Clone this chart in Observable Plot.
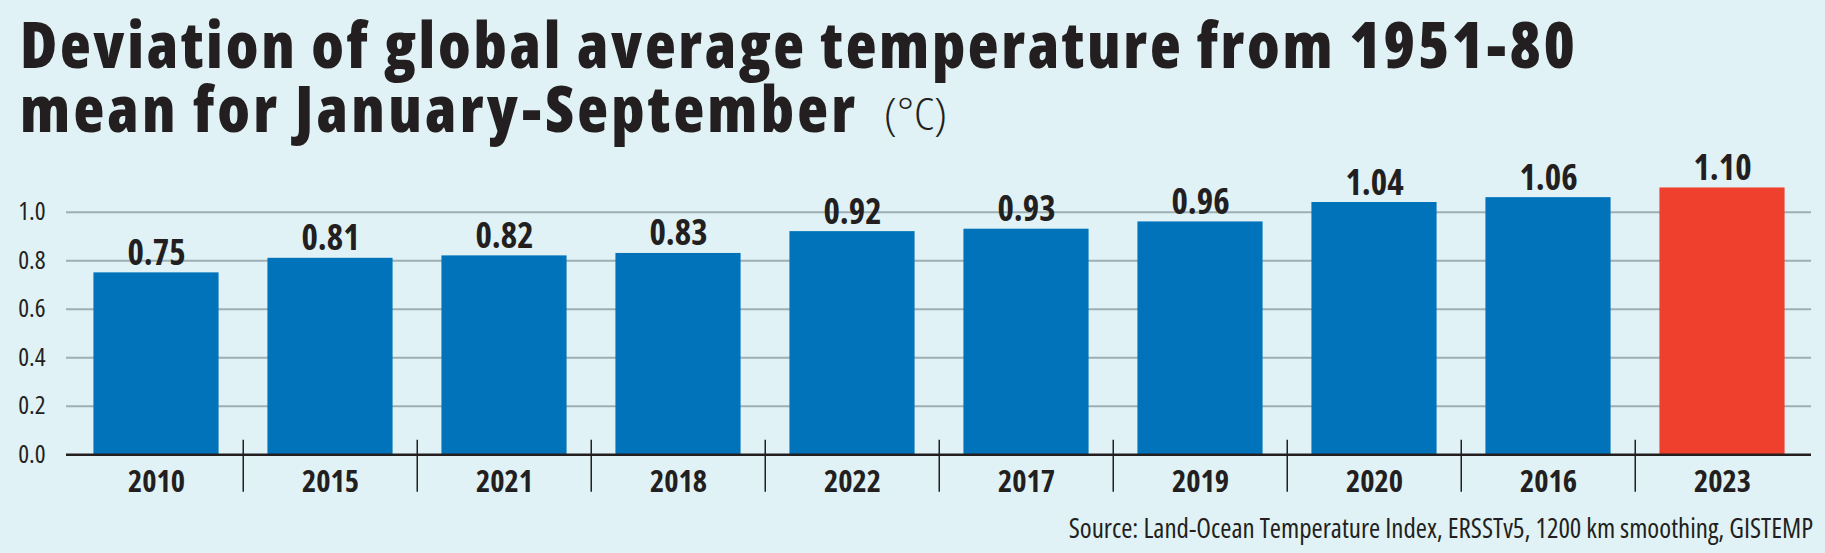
<!DOCTYPE html>
<html>
<head>
<meta charset="utf-8">
<script src="https://cdn.jsdelivr.net/npm/d3@7"></script>
<script src="https://cdn.jsdelivr.net/npm/@observablehq/plot@0.6"></script>
<style>
  html, body { margin: 0; padding: 0; }
  body {
    width: 1825px; height: 553px; position: relative; overflow: hidden;
    background: #e0f2f5; color: #231f20;
    font-family: "Open Sans", sans-serif;
  }
  #title { position: absolute; left: 0; top: 0; display: block; overflow: visible; }
  #title text { font-family: "Open Sans", sans-serif; font-stretch: 75%; fill: #231f20; }
  #title .head { font-size: 63.5px; font-weight: 800; }
  #title .unit { font-size: 44px; font-weight: 300; }
  #chart { position: absolute; left: 0; top: 140px; }
  #chart svg text { font-stretch: 75%; }
  #source {
    position: absolute; right: 12px; top: 515px;
    font-size: 27px; line-height: 26px; font-stretch: 75%; white-space: nowrap;
  }
</style>
</head>
<body>
<svg id="title" width="1825" height="175">
  <text class="head" x="20" y="68" textLength="1555" lengthAdjust="spacing">Deviation of global average temperature from 1951-80</text>
  <text class="head" x="20" y="132" textLength="835" lengthAdjust="spacing">mean for January-September</text>
  <text class="unit" x="884" y="130" textLength="63" lengthAdjust="spacingAndGlyphs">(°C)</text>
</svg>
<div id="chart"></div>
<div id="source">Source: Land-Ocean Temperature Index, ERSSTv5, 1200 km smoothing, GISTEMP</div>
<script>
// Years, ranked from coolest to warmest January–September anomaly
const years = ["2010", "2015", "2021", "2018", "2022", "2017", "2019", "2020", "2016", "2023"];
// Anomaly vs 1951–80 mean, °C
const anomalies = [0.75, 0.81, 0.82, 0.83, 0.92, 0.93, 0.96, 1.04, 1.06, 1.10];
// Year singled out in red
const highlightYear = "2023";
const yTicks = [0.0, 0.2, 0.4, 0.6, 0.8, 1.0];

const data = years.map((year, i) => ({year, value: anomalies[i]}));

const W = 1825, H = 370;
const ML = 66, MR = 14, MT = 23.2, MB = 55.7;
const step = (W - ML - MR) / years.length;
const ink = "#231f20";

const chart = Plot.plot({
  width: W,
  height: H,
  marginLeft: ML,
  marginRight: MR,
  marginTop: MT,
  marginBottom: MB,
  style: {background: "transparent", color: ink, fontFamily: "'Open Sans', sans-serif"},
  x: {domain: years, padding: 0, label: null},
  y: {domain: [0, 1.2], label: null},
  marks: [
    Plot.ruleY(yTicks.filter(d => d > 0), {stroke: "#9eafb4", strokeWidth: 2}),
    Plot.barY(data, {
      x: "year", y: "value",
      insetLeft: step * 0.14, insetRight: step * 0.14,
      fill: d => d.year === highlightYear ? "#ee402d" : "#0073ba"
    }),
    Plot.ruleY([0], {stroke: ink, strokeWidth: 2.5}),
    // separators between year categories
    Plot.ruleX(years.slice(1), {
      x: d => d, dx: -step / 2, y1: 0, y2: 0,
      insetTop: -14.5, insetBottom: -37.5,
      stroke: ink, strokeWidth: 1.5
    }),
    Plot.text(data, {
      x: "year", y: "value", text: d => d.value.toFixed(2),
      lineAnchor: "bottom", dy: -8,
      fontSize: 35, fontWeight: 700, fill: ink
    }),
    Plot.axisY({
      ticks: yTicks, tickFormat: d => d.toFixed(1),
      tickSize: 0, tickPadding: 21, fontSize: 25.5, label: null
    }),
    Plot.axisX({
      tickSize: 0, tickPadding: 16, fontSize: 30.5, fontWeight: 700, label: null
    })
  ]
});
document.getElementById("chart").append(chart);
</script>
</body>
</html>
